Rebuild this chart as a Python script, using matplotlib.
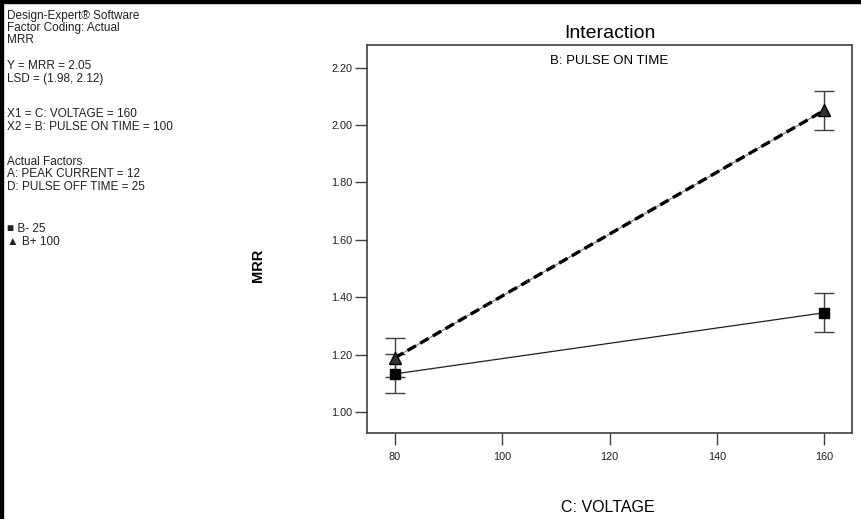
import matplotlib
matplotlib.use("Agg")
import matplotlib.pyplot as plt
from matplotlib.patches import Rectangle

fig_width_pixels = 862
fig_height_pixels = 519
dpi = 100

# data
voltage = [80, 160]
mrr_b_low = [1.133, 1.346]    # B- 25
mrr_b_high = [1.189, 2.051]   # B+ 100
lsd_half = [0.068, 0.068]     # half width of the LSD bars

x_ticks = [80, 100, 120, 140, 160]
y_ticks = [1.00, 1.20, 1.40, 1.60, 1.80, 2.00, 2.20]

info_lines = [
    ("Design-Expert\u00ae Software", 16),
    ("Factor Coding: Actual", 28),
    ("MRR", 40),
    ("Y = MRR = 2.05", 66),
    ("LSD = (1.98, 2.12)", 79),
    ("X1 = C: VOLTAGE = 160", 114),
    ("X2 = B: PULSE ON TIME = 100", 127),
    ("Actual Factors", 162),
    ("A: PEAK CURRENT = 12", 174),
    ("D: PULSE OFF TIME = 25", 187),
    ("\u25a0 B- 25", 229),
    ("\u25b2 B+ 100", 242),
]

plt.rcParams['font.family'] = ['Liberation Sans', 'DejaVu Sans']
plt.rcParams['lines.scale_dashes'] = False

fig = plt.figure(figsize=(fig_width_pixels / dpi, fig_height_pixels / dpi), dpi=dpi)
W, H = fig_width_pixels, fig_height_pixels

# black frame on the left and top of the picture
fig.patches.append(Rectangle((0, 0), 3 / W, 1, transform=fig.transFigure, color='black', zorder=10))
fig.patches.append(Rectangle((0, 1 - 3 / H), 1, 3 / H, transform=fig.transFigure, color='black', zorder=10))

ax = fig.add_axes([367 / W, 1 - 433 / H, (852 - 367) / W, (433 - 45) / H])

spine_color = '#404040'
for s in ax.spines.values():
    s.set_color(spine_color)
    s.set_linewidth(1.2)

# B- : thin solid line with squares
ax.plot(voltage, mrr_b_low, color='#202020', lw=0.9, zorder=3)
ax.errorbar(voltage, mrr_b_low, yerr=lsd_half, fmt='none', ecolor=spine_color,
            elinewidth=1, capsize=7.5, capthick=1, zorder=2)
ax.plot(voltage, mrr_b_low, 's', color='black', markersize=7, zorder=5)

# B+ : thick dashed line with triangles
ax.plot(voltage, mrr_b_high, color='#808080', lw=0.8, zorder=3)
ax.plot(voltage, mrr_b_high, color='black', lw=2.4, dashes=(7, 3.5), zorder=4)
ax.errorbar(voltage, mrr_b_high, yerr=lsd_half, fmt='none', ecolor=spine_color,
            elinewidth=1, capsize=7.5, capthick=1, zorder=2)
ax.plot(voltage, mrr_b_high, '^', color='#333333', markeredgecolor='black',
        markersize=8.5, zorder=5)

ax.set_xlim(74.8, 165.2)
ax.set_ylim(0.927, 2.279)
ax.set_xticks(x_ticks)
ax.set_xticklabels([str(v) for v in x_ticks])
ax.set_yticks(y_ticks)
ax.set_yticklabels(['%.2f' % v for v in y_ticks])
ax.tick_params(axis='both', direction='out', length=8.5, width=1, color=spine_color,
               labelsize=7.8, labelcolor='#202020', top=False, right=False)
ax.tick_params(axis='y', pad=2)
ax.tick_params(axis='x', pad=5)

ax.text(0.5, 0.958, 'B: PULSE ON TIME', transform=ax.transAxes, ha='center',
        va='center', fontsize=9.5)

fig.text(610 / W, 1 - 33 / H, 'Interaction', ha='center', va='center', fontsize=14)
fig.text(608 / W, 1 - 508 / H, 'C: VOLTAGE', ha='center', va='center', fontsize=11.5)
fig.text(258 / W, 1 - 265 / H, 'MRR', ha='center', va='center', rotation=90,
         fontsize=10.5, fontweight='bold')

for txt, y in info_lines:
    fig.text(7 / W, 1 - y / H, txt, ha='left', va='center', fontsize=8.5, color='#202020')

fig.savefig('out.png', dpi=dpi)
plt.close(fig)
